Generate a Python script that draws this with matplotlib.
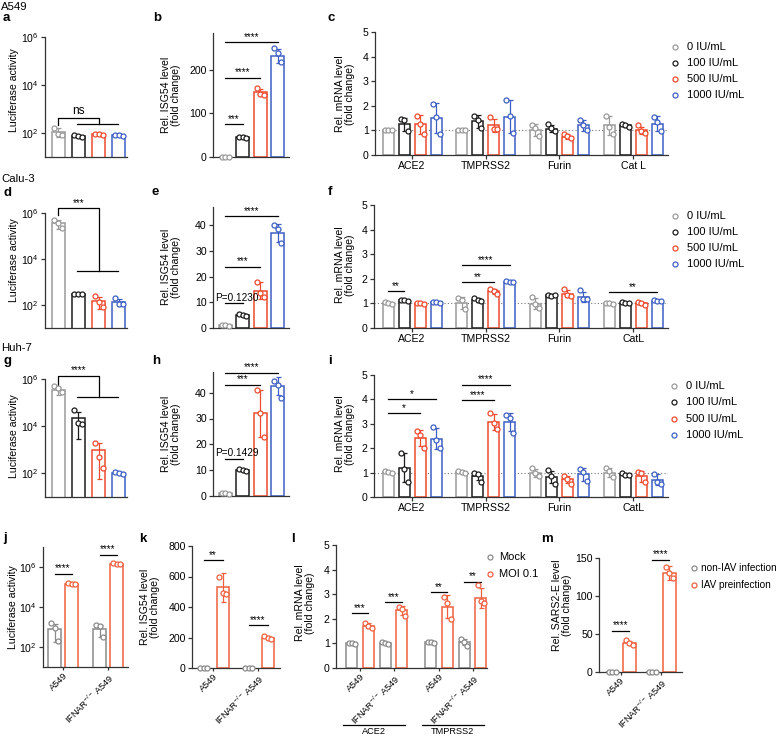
import numpy as np
import matplotlib
matplotlib.use("Agg")
import matplotlib.pyplot as plt
from matplotlib.lines import Line2D
from matplotlib.transforms import blended_transform_factory


W, H = 776, 736
FS = 7.6
ROT_FS = 6.6
STAR_FS = 7
AXIS = "#333333"

plt.rcParams["font.family"] = ["Liberation Sans", "DejaVu Sans"]
plt.rcParams["mathtext.fontset"] = "custom"
plt.rcParams["mathtext.rm"] = "Liberation Sans"
plt.rcParams["mathtext.it"] = "Liberation Sans:italic"
plt.rcParams["mathtext.bf"] = "Liberation Sans:bold"
plt.rcParams["font.size"] = FS

GREY = "#9a9a9a"
BLACK = "#1c1c1c"
RED = "#ee4a2e"
BLUE = "#3d5fc4"
DOSE_COLORS = [GREY, BLACK, RED, BLUE]
CTRL_COLOR = "#8a8a8a"
IAV_COLOR = "#f0603f"

# Categorias
DOSES = ["0 IU/mL", "100 IU/mL", "500 IU/mL", "1000 IU/mL"]
GENES_C = ["ACE2", "TMPRSS2", "Furin", "Cat L"]
GENES_FI = ["ACE2", "TMPRSS2", "Furin", "CatL"]
CELLS = ["A549", r"IFNAR$^{\mathregular{-/-}}$ A549"]
L_GENES = ["ACE2", "TMPRSS2"]

# a - A549 luciferase
A_MEAN = [110, 75, 90, 80]
A_SD = [45, 5, 8, 7]
A_PTS = [[160, 90, 85], [80, 75, 70], [95, 90, 85], [85, 80, 75]]
A_BRACKET = (420, 215, 237, "ns")

# b - A549 ISG54
B_MEAN = [1, 45, 149, 232]
B_SD = [0.5, 2, 7, 17]
B_PTS = [[1, 1, 1], [47, 45, 43], [159, 145, 143], [250, 238, 218]]
B_SIG = [(0, 1, 75, "***"), (0, 2, 182, "****"), (0, 3, 264, "****")]

# c - A549 mRNA (linhas = doses, colunas = genes)
C_MEAN = [[1.0, 1.0, 1.0, 1.2],
          [1.25, 1.37, 1.07, 1.2],
          [1.24, 1.2, 0.75, 1.0],
          [1.5, 1.56, 1.2, 1.27]]
C_SD = [[0.02, 0.02, 0.24, 0.37],
        [0.27, 0.26, 0.15, 0.05],
        [0.37, 0.27, 0.09, 0.15],
        [0.6, 0.67, 0.22, 0.3]]
C_PTS = [[[1.0, 1.0, 1.0], [1.0, 1.0, 1.0], [1.23, 1.09, 0.76], [1.6, 1.13, 0.87]],
         [[1.47, 1.44, 0.97], [1.6, 1.44, 1.09], [1.27, 1.09, 0.97], [1.24, 1.2, 1.15]],
         [[1.6, 1.27, 0.87], [1.53, 1.07, 1.07], [0.87, 0.77, 0.69], [1.2, 0.97, 0.91]],
         [[2.07, 1.56, 0.87], [2.23, 1.6, 0.89], [1.43, 1.2, 1.0], [1.56, 1.33, 0.97]]]

# d - Calu-3 luciferase
D_MEAN = [3.5e5, 300, 150, 140]
D_SD = [1.4e5, 15, 80, 50]
D_PTS = [[5e5, 3.8e5, 2.2e5], [310, 300, 290], [240, 130, 85], [200, 115, 110]]
D_BRACKET = (1.6e6, 8e5, 3000, "***")

# e - Calu-3 ISG54
E_MEAN = [1.0, 5.0, 14.5, 37.0]
E_SD = [0.3, 0.5, 3.3, 3.5]
E_PTS = [[1.2, 1.0, 0.8], [5.5, 5.0, 4.6], [18, 13.5, 12], [40, 38.5, 33]]
E_SIG = [(0, 1, 9.7, "P=0.1230"), (0, 2, 23.7, "***"), (0, 3, 43.5, "****")]

# f - Calu-3 mRNA
F_MEAN = [[1.0, 1.03, 0.99, 1.0],
          [1.12, 1.14, 1.33, 1.02],
          [1.0, 1.49, 1.4, 1.0],
          [1.05, 1.87, 1.26, 1.1]]
F_SD = [[0.04, 0.24, 0.23, 0.02],
        [0.03, 0.07, 0.07, 0.02],
        [0.03, 0.09, 0.14, 0.05],
        [0.03, 0.03, 0.2, 0.02]]
F_PTS = [[[1.05, 1.0, 0.97], [1.22, 1.12, 0.76], [1.26, 0.99, 0.81], [1.02, 1.0, 0.98]],
         [[1.15, 1.12, 1.1], [1.22, 1.12, 1.08], [1.36, 1.3, 1.33], [1.04, 1.02, 1.0]],
         [[1.03, 1.0, 0.98], [1.57, 1.49, 1.4], [1.6, 1.33, 1.3], [1.05, 1.0, 0.95]],
         [[1.07, 1.05, 1.03], [1.9, 1.87, 1.85], [1.53, 1.19, 1.17], [1.12, 1.1, 1.1]]]
F_SIG = [(0, 0, 1, 1.5, "**"), (1, 0, 2, 1.87, "**"), (1, 0, 3, 2.56, "****"),
         (3, 0, 3, 1.45, "**")]

# g - Huh-7 luciferase
G_MEAN = [3.5e5, 2.2e4, 980, 107]
G_SD = [1.3e5, 1.9e4, 920, 12]
G_PTS = [[5.3e5, 4.1e5, 2.7e5], [4.8e4, 1.4e4, 1.3e4], [1900, 500, 175], [120, 105, 95]]
G_BRACKET = (1.4e6, 5.7e5, 1.7e5, "****")

# h - Huh-7 ISG54
H_MEAN = [1.0, 10.0, 32.0, 42.5]
H_SD = [0.2, 0.4, 9.0, 3.5]
H_PTS = [[1.2, 1.0, 0.8], [10.6, 10.0, 9.7], [41, 32, 23], [44.5, 43, 38]]
H_SIG = [(0, 1, 14.4, "P=0.1429"), (0, 2, 43, "***"), (0, 3, 47.8, "****")]

# i - Huh-7 mRNA
I_MEAN = [[1.02, 1.02, 0.98, 1.0],
          [1.2, 0.85, 0.82, 0.93],
          [2.42, 3.07, 0.72, 0.85],
          [2.38, 3.07, 0.93, 0.71]]
I_SD = [[0.03, 0.03, 0.17, 0.2],
        [0.6, 0.15, 0.26, 0.05],
        [0.33, 0.33, 0.15, 0.22],
        [0.43, 0.38, 0.26, 0.22]]
I_PTS = [[[1.05, 1.02, 1.0], [1.05, 1.03, 1.0], [1.19, 0.98, 0.86], [1.2, 1.05, 0.8]],
         [[1.8, 1.15, 0.6], [1.0, 0.95, 0.61], [1.12, 0.86, 0.55], [0.98, 0.92, 0.9]],
         [[2.7, 2.55, 2.0], [3.44, 3.03, 2.8], [0.85, 0.75, 0.55], [1.02, 0.98, 0.61]],
         [[2.87, 2.34, 2.0], [3.36, 3.24, 2.62], [1.13, 1.02, 0.64], [0.96, 0.61, 0.55]]]
I_SIG = [(0, 0, 2, 3.44, "*"), (0, 0, 3, 4.0, "*"), (1, 0, 2, 3.97, "****"),
         (1, 0, 3, 4.6, "****")]

# j - luciferase, IAV
J_CTRL_MEAN = [830, 780]
J_CTRL_SD = [650, 450]
J_CTRL_PTS = [[1600, 940, 200], [1200, 1150, 300]]
J_IAV_MEAN = [1.4e5, 1.4e6]
J_IAV_SD = [1e4, 1e5]
J_IAV_PTS = [[1.5e5, 1.4e5, 1.35e5], [1.5e6, 1.4e6, 1.35e6]]
J_SIG = [(0, 4.7e5, "****"), (1, 4e6, "****")]

# k - ISG54, IAV
K_CTRL_MEAN = [1, 1]
K_CTRL_SD = [0.2, 0.2]
K_CTRL_PTS = [[1, 1, 1], [1, 1, 1]]
K_IAV_MEAN = [530, 200]
K_IAV_SD = [95, 12]
K_IAV_PTS = [[600, 490, 483], [212, 200, 190]]
K_SIG = [(0, 708, "**"), (1, 280, "****")]

# l - mRNA, IAV
L_CTRL_MEAN = [1.0, 1.0, 1.05, 1.05]
L_CTRL_SD = [0.02, 0.03, 0.03, 0.13]
L_CTRL_PTS = [[1.02, 1.0, 0.98], [1.04, 1.0, 0.97], [1.07, 1.05, 1.02], [1.17, 1.07, 0.91]]
L_IAV_MEAN = [1.72, 2.35, 2.5, 2.85]
L_IAV_SD = [0.1, 0.18, 0.45, 0.42]
L_IAV_PTS = [[1.83, 1.69, 1.63], [2.49, 2.4, 2.13], [2.87, 2.63, 2.0], [3.37, 2.72, 2.64]]
L_SIG = [(0, 2.22, "***"), (1, 2.68, "***"), (2, 3.07, "**"), (3, 3.5, "**")]

# m - SARS2-E, IAV
M_CTRL_MEAN = [0.5, 0.5]
M_CTRL_SD = [0.1, 0.1]
M_CTRL_PTS = [[0.5, 0.5, 0.5], [0.5, 0.5, 0.5]]
M_IAV_MEAN = [38.4, 130]
M_IAV_SD = [3, 9]
M_IAV_PTS = [[41.8, 38.3, 35.2], [138.6, 129.8, 123.2]]
M_SIG = [(0, 54, "****"), (1, 148, "****")]


fig = plt.figure(figsize=(W / 100, H / 100), dpi=100)


def px_axes(left, top, right, bottom):
    ax = fig.add_axes([left / W, 1 - bottom / H, (right - left) / W, (bottom - top) / H])
    for s in ("top", "right"):
        ax.spines[s].set_visible(False)
    for s in ("left", "bottom"):
        ax.spines[s].set_linewidth(0.9)
        ax.spines[s].set_color(AXIS)
    ax.tick_params(length=3, width=0.9, color=AXIS, labelsize=FS, pad=1.5)
    ax.set_facecolor("none")
    return ax


def ftext(x, y, s, **kw):
    fig.text(x / W, 1 - y / H, s, **kw)


def draw_bar(ax, x, mean, sd, pts, color, width, spread, log=False):
    ax.bar(x, mean, width=width, bottom=1 if log else 0, color="white",
           edgecolor=color, linewidth=1.1, zorder=2)
    ax.errorbar(x, mean, yerr=sd, fmt="none", ecolor=color, elinewidth=0.9,
                capsize=1.8, capthick=0.9, zorder=3)
    ax.plot(x + np.array([-spread, 0, spread]), pts, "o", ms=3.6, mfc="white",
            mec=color, mew=0.9, zorder=4, clip_on=False)


def sig_line(ax, x0, x1, y, txt, fs=STAR_FS, dx=0):
    ax.plot([x0, x1], [y, y], color="black", lw=0.9, clip_on=False)
    ax.annotate(txt, ((x0 + x1) / 2, y), xytext=(dx, 0.3), textcoords="offset points",
                ha="center", va="bottom", fontsize=fs, annotation_clip=False)


def log_axis(ax, top):
    ax.set_yscale("log")
    ax.set_ylim(10, top)
    ax.set_yticks([1e2, 1e4, 1e6])
    ax.set_yticklabels([r"$10^{2}$", r"$10^{4}$", r"$10^{6}$"])
    ax.minorticks_off()


def ylabel(x, y, s):
    ftext(x, y, s, rotation=90, ha="center", va="center", fontsize=FS,
          multialignment="center", linespacing=1.1)


def legend_rows(xm, xt, y0, dy, labels, colors, fs=8):
    for i, (lab, c) in enumerate(zip(labels, colors)):
        y = y0 + i * dy
        fig.add_artist(Line2D([xm / W], [1 - y / H], marker="o", ms=3.6, mfc="white",
                              mec=c, mew=0.9, linestyle="none", transform=fig.transFigure))
        ftext(xt, y, lab, va="center", fontsize=fs)


def rot_labels(ax, labels):
    ax.set_xticklabels(labels, rotation=45, ha="right", va="top",
                       rotation_mode="anchor", fontsize=ROT_FS)
    ax.tick_params(axis="x", pad=0.5, length=2.5)


# Painéis de luciferase (a, d, g)
def dose_log_panel(rect, mean, sd, pts, bracket):
    ax = px_axes(*rect)
    sp = 20.3
    for i in range(4):
        draw_bar(ax, i * sp, mean[i], sd[i], pts[i], DOSE_COLORS[i], 13, 4, log=True)
    log_axis(ax, 1e6)
    ax.set_xlim(-13, 69)
    ax.set_xticks([])
    top, low_left, lower, txt = bracket
    ax.plot([0, 0, 2 * sp, 2 * sp], [low_left, top, top, lower], color="black",
            lw=0.9, clip_on=False)
    ax.plot([sp - 1, 3 * sp - 1], [lower, lower], color="black", lw=0.9, clip_on=False)
    ax.annotate(txt, (sp, top), xytext=(0, 0.5), textcoords="offset points",
                ha="center", va="bottom", fontsize=STAR_FS if txt != "ns" else 8.5,
                annotation_clip=False)
    return ax


# Painéis de ISG54 (b, e, h)
def dose_lin_panel(rect, mean, sd, pts, sigs, ylim, ticks):
    ax = px_axes(*rect)
    sp = 17.5
    for i in range(4):
        draw_bar(ax, i * sp, mean[i], sd[i], pts[i], DOSE_COLORS[i], 13, 3.5)
    ax.set_ylim(*ylim)
    ax.set_yticks(ticks)
    ax.set_xlim(-12, 64)
    ax.set_xticks([])
    for i0, i1, y, txt in sigs:
        if txt.startswith("*"):
            sig_line(ax, i0 * sp, i1 * sp, y, txt)
        else:
            sig_line(ax, i0 * sp, i1 * sp, y, txt, fs=7.2, dx=2.5)
    return ax


# Painéis de mRNA (c, f, i)
def gene_panel(rect, xlim, mean, sd, pts, genes, sigs):
    ax = px_axes(*rect)
    gsp, bsp = 73.7, 16
    for d in range(4):
        for g in range(4):
            x = g * gsp + (d - 1.5) * bsp
            draw_bar(ax, x, mean[d][g], sd[d][g], pts[d][g], DOSE_COLORS[d], 11, 3.5)
    ax.axhline(1, color="#777777", lw=0.8, ls=(0, (1, 2)), zorder=1)
    ax.set_ylim(0, 5)
    ax.set_yticks(range(6))
    ax.set_xlim(*xlim)
    ax.set_xticks([g * gsp for g in range(4)])
    ax.set_xticklabels(genes)
    for g, d0, d1, y, txt in sigs:
        sig_line(ax, g * gsp + (d0 - 1.5) * bsp, g * gsp + (d1 - 1.5) * bsp, y, txt)
    return ax


# Painéis de IAV (j, k, m)
def iav_panel(rect, xlim, gsp, off, width, ctrl, iav, sigs, log=False):
    ax = px_axes(*rect)
    cm, cs, cp = ctrl
    im, isd, ip = iav
    for g in range(2):
        draw_bar(ax, g * gsp - off, cm[g], cs[g], cp[g], CTRL_COLOR, width, 3.5, log=log)
        draw_bar(ax, g * gsp + off, im[g], isd[g], ip[g], IAV_COLOR, width, 3.5, log=log)
    ax.set_xlim(*xlim)
    ax.set_xticks([g * gsp for g in range(2)])
    rot_labels(ax, CELLS)
    for g, y, txt in sigs:
        sig_line(ax, g * gsp - off, g * gsp + off, y, txt)
    return ax


# Linha 1 - A549
ax_a = dose_log_panel((45, 37, 127, 157), A_MEAN, A_SD, A_PTS, A_BRACKET)
ax_b = dose_lin_panel((213, 33, 289, 157), B_MEAN, B_SD, B_PTS, B_SIG, (0, 285), [0, 100, 200])
ax_c = gene_panel((375, 32, 668, 155), (-37, 256), C_MEAN, C_SD, C_PTS, GENES_C, [])

# Linha 2 - Calu-3
ax_d = dose_log_panel((45, 213, 127, 328), D_MEAN, D_SD, D_PTS, D_BRACKET)
ax_e = dose_lin_panel((213, 207, 289, 328), E_MEAN, E_SD, E_PTS, E_SIG, (0, 47),
                      [0, 10, 20, 30, 40])
ax_f = gene_panel((374, 205, 668, 328), (-38, 256), F_MEAN, F_SD, F_PTS, GENES_FI, F_SIG)

# Linha 3 - Huh-7
ax_g = dose_log_panel((45, 379, 127, 497), G_MEAN, G_SD, G_PTS, G_BRACKET)
ax_h = dose_lin_panel((213, 372, 289, 496), H_MEAN, H_SD, H_PTS, H_SIG, (0, 48),
                      [0, 10, 20, 30, 40])
ax_i = gene_panel((374, 375, 668, 497), (-38, 256), I_MEAN, I_SD, I_PTS, GENES_FI, I_SIG)

# Linha 4 - IAV
ax_j = iav_panel((43, 547, 128, 667), (-20, 65), 45, 8.5, 13,
                 (J_CTRL_MEAN, J_CTRL_SD, J_CTRL_PTS), (J_IAV_MEAN, J_IAV_SD, J_IAV_PTS),
                 J_SIG, log=True)
log_axis(ax_j, 1e7)

ax_k = iav_panel((192, 546, 280, 668), (-21, 67), 45, 9.5, 12,
                 (K_CTRL_MEAN, K_CTRL_SD, K_CTRL_PTS), (K_IAV_MEAN, K_IAV_SD, K_IAV_PTS),
                 K_SIG)
ax_k.set_ylim(0, 800)
ax_k.set_yticks([0, 200, 400, 600, 800])

ax_m = iav_panel((599, 558, 682, 672), (-21.5, 61.5), 40, 8.5, 13,
                 (M_CTRL_MEAN, M_CTRL_SD, M_CTRL_PTS), (M_IAV_MEAN, M_IAV_SD, M_IAV_PTS),
                 M_SIG)
ax_m.set_ylim(0, 150)
ax_m.set_yticks([0, 50, 100, 150])

# painel l: dois genes x duas linhagens
ax_l = px_axes(336, 545, 487, 668)
l_pos = [gi * 79 + ci * 33.5 for gi in range(2) for ci in range(2)]
for k, x in enumerate(l_pos):
    draw_bar(ax_l, x - 8.3, L_CTRL_MEAN[k], L_CTRL_SD[k], L_CTRL_PTS[k], CTRL_COLOR, 11, 3.2)
    draw_bar(ax_l, x + 8.3, L_IAV_MEAN[k], L_IAV_SD[k], L_IAV_PTS[k], IAV_COLOR, 11, 3.2)
for k, y, txt in L_SIG:
    sig_line(ax_l, l_pos[k] - 8.3, l_pos[k] + 8.3, y, txt)
ax_l.set_xlim(-24, 127)
ax_l.set_ylim(0, 5)
ax_l.set_yticks(range(6))
ax_l.set_xticks(l_pos)
rot_labels(ax_l, CELLS * 2)
trans = blended_transform_factory(ax_l.transData, fig.transFigure)
for gi, gene in enumerate(L_GENES):
    mid = (l_pos[2 * gi] + l_pos[2 * gi + 1]) / 2 - 3
    ax_l.plot([mid - 31, mid + 31], [1 - 725 / H] * 2, color="black", lw=0.9,
              transform=trans, clip_on=False)
    ax_l.text(mid, 1 - 732 / H, gene, transform=trans, ha="center", va="center",
              fontsize=ROT_FS)

# Rótulos dos eixos
ylabel(14, 90, "Luciferase activity")
ylabel(14, 260, "Luciferase activity")
ylabel(14, 436, "Luciferase activity")
ylabel(13, 607, "Luciferase activity")
ylabel(171, 95, "Rel. ISG54 level\n(fold change)")
ylabel(171, 267, "Rel. ISG54 level\n(fold change)")
ylabel(171, 434, "Rel. ISG54 level\n(fold change)")
ylabel(150, 607, "Rel. ISG54 level\n(fold change)")
ylabel(345, 94, "Rel. mRNA level\n(fold change)")
ylabel(345, 265, "Rel. mRNA level\n(fold change)")
ylabel(345, 434, "Rel. mRNA level\n(fold change)")
ylabel(305, 603, "Rel. mRNA level\n(fold change)")
ylabel(562, 605, "Rel. SARS2-E level\n(fold change)")

# Letras dos painéis e linhagens
for x, y, s in [(3, 21, "a"), (153, 21, "b"), (327, 21, "c"),
                (3, 196, "d"), (152, 195, "e"), (328, 195, "f"),
                (3, 364, "g"), (152, 364, "h"), (328, 364, "i"),
                (3, 541, "j"), (139, 542, "k"), (291, 542, "l"), (541, 542, "m")]:
    ftext(x, y, s, fontsize=9.5, fontweight="bold", va="baseline")
for y, s in [(10, "A549"), (182, "Calu-3"), (351, "Huh-7")]:
    ftext(1, y, s, fontsize=8.2, va="baseline")

# Legendas
legend_rows(675, 687, 47, 16, DOSES, DOSE_COLORS)
legend_rows(675, 687, 216, 16, DOSES, DOSE_COLORS)
legend_rows(674, 686, 386, 16.3, DOSES, DOSE_COLORS)
legend_rows(490, 499, 557, 17, ["Mock", "MOI 0.1"], [CTRL_COLOR, IAV_COLOR])
legend_rows(694, 701, 568, 17, ["non-IAV infection", "IAV preinfection"],
            [CTRL_COLOR, IAV_COLOR], fs=7.2)

fig.savefig("out.png", dpi=100)
